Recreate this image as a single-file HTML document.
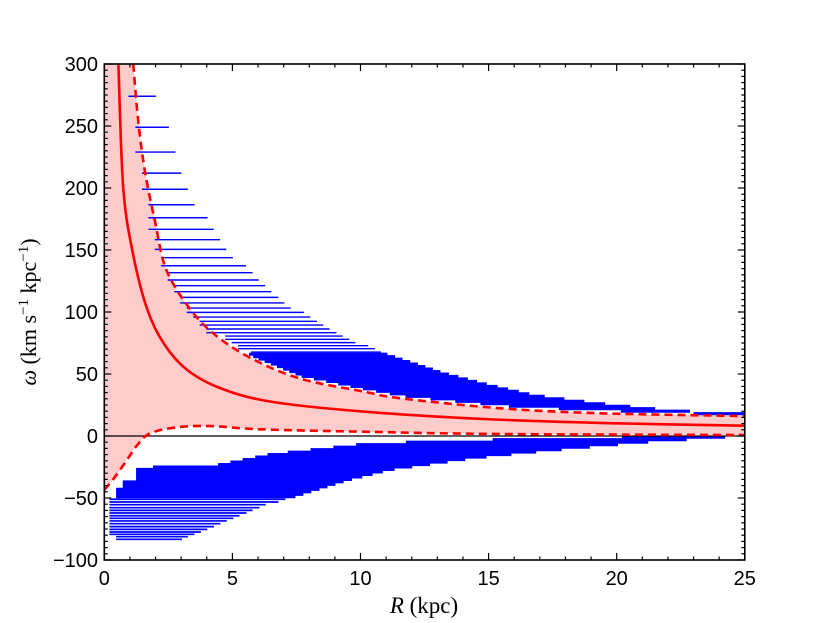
<!DOCTYPE html>
<html><head><meta charset="utf-8">
<style>
html,body{margin:0;padding:0;background:#fff;}
svg{display:block;font-family:"Liberation Sans",sans-serif;}
</style></head>
<body>
<svg id="chart" width="830" height="623" viewBox="0 0 830 623" xmlns="http://www.w3.org/2000/svg">
<defs><clipPath id="plotclip"><rect x="104.3" y="64" width="640.5" height="496"/></clipPath></defs>
<g id="plot" clip-path="url(#plotclip)"></g>
<g id="axes"></g>
<text x="424" y="613" text-anchor="middle" font-family="Liberation Serif, serif" font-size="23"><tspan font-style="italic">R</tspan> (kpc)</text>
<text transform="translate(36,312) rotate(-90)" text-anchor="middle" font-family="Liberation Serif, serif" font-size="22"><tspan font-style="italic">ω</tspan> (km s<tspan dy="-8" font-size="15">−1</tspan><tspan dy="8"> kpc</tspan><tspan dy="-8" font-size="15">−1</tspan><tspan dy="8">)</tspan></text>
</svg>
<script>
// Solid curve (model)
const solidR = [0.55,0.74,1.13,1.68,2.34,3.25,4.55,6.5,10.16,15,20,25];
const solidW = [300,200,146,102,74,53,38.4,27.7,19.6,13.5,10.2,8.3];
// Upper dashed curve
const upR = [1.13,1.33,1.59,1.98,2.42,3.38,4.42,5.86,7.7,10.16,11.57,15.5,19.4,25];
const upW = [300,253,213,173,134,101.6,80,61.3,46,35.7,30.4,22.3,18.3,16.1];
// Lower dashed curve
const loR = [0,0.38,0.88,1.3,1.79,2.83,4.14,6.1,10,15.5,25];
const loW = [-43.5,-34,-19.4,-7,2.2,7,8,5.4,3.5,1.6,0.8];
// Upper blue segments (sparse)
const upSparseW = [274,249,229,212,199,186.5,176,166.7,158.3,150.5,143.8,137.3,131.7,125.8,121.2,116.4,111.8,107.3,103.2,99.7,95.9,92.5,89.5,86.3,83.3,80.6,78,75.3,72.8,70.4,67.7];
const upSparseStart = [0.94,1.21,1.21,1.47,1.47,1.72,1.72,1.72,1.97,1.97,2.22,2.22,2.47,2.47,2.73,2.73,2.96,2.96,3.22,3.22,3.47,3.72,3.72,3.98,3.98,4.72,4.72,4.97,5.22,5.22,5.73];
const upSparseEnd = [2.01,2.52,2.78,3.01,3.26,3.52,4.03,4.27,4.52,4.76,5.02,5.53,5.79,6.03,6.28,6.52,6.79,7.03,7.28,7.79,8.04,8.3,8.55,8.79,9.06,9.3,9.56,9.8,10.3,10.56,10.8];
// Upper blue segments (dense)
const upDenseW = [66,64,62,60,58,56,54,52,50,48,46,44,42,40,38,36,34,32,30,28,26,24,22,20,18];
const upDenseStart = [5.65,5.81,6.02,6.26,6.5,6.74,6.98,7.22,7.46,7.7,8.18,8.66,9.13,9.61,10.09,10.61,11.14,11.76,12.73,13.7,14.68,15.79,17.74,20.16,23.0];
const upDenseEnd = [11.05,11.35,11.64,11.94,12.24,12.53,12.83,13.12,13.45,13.82,14.19,14.55,14.93,15.35,15.76,16.18,16.59,17.19,17.96,18.74,19.55,20.53,21.5,22.86,25.0];
// Lower blue segments (sparse)
const loSparseW = [-83.3,-81.2,-79.3,-77.4,-75.3,-73.1,-70.7,-68.5,-66.4,-64.3,-62.1,-60,-57.8,-55.4,-53.2,-51];
const loSparseStart = [0.46,0.46,0.2,0.2,0.2,0.2,0.2,0.2,0.2,0.2,0.2,0.2,0.2,0.2,0.2,0.2];
const loSparseEnd = [3.03,3.26,3.52,3.77,4.02,4.28,4.53,4.78,5.04,5.28,5.55,5.79,6.06,6.3,6.8,7.07];
// Lower blue segments (dense)
const loDenseW = [-49,-47,-45,-43,-41,-39,-37,-35,-33,-31,-29,-27,-25,-23,-21,-19,-17,-15,-13,-11,-9,-7,-5,-3,-1];
const loDenseStart = [0.46,0.46,0.46,0.46,0.72,0.72,0.72,1.24,1.24,1.24,1.24,1.24,1.9,4.44,4.92,5.4,5.89,6.37,7.16,8.05,8.94,9.83,11.77,15.16,20.2];
const loDenseEnd = [7.46,7.77,8.08,8.4,8.71,9.02,9.34,9.67,10.07,10.47,10.87,11.33,12.02,12.71,13.4,14.09,14.92,15.89,16.86,17.85,18.95,20.05,21.23,22.73,24.23];
// Ticks
const xTicks = [0,5,10,15,20,25];
const yTicks = [300,250,200,150,100,50,0,-50,-100];
const yTickLabels = ["300","250","200","150","100","50","0","−50","−100"];

const X0=104.3, X1=744.8, Y0=436, PXW=1.24;
function sx(r){return X0+(X1-X0)*r/25;}
function sy(w){return Y0-w*PXW;}
const NS="http://www.w3.org/2000/svg";
const plot=document.getElementById('plot');
const axes=document.getElementById('axes');
function mk(tag,attrs,parent){const e=document.createElementNS(NS,tag);for(const k in attrs)e.setAttribute(k,attrs[k]);parent.appendChild(e);return e;}
function smoothPath(R,W,move){
  const p=R.map((r,i)=>[sx(r),sy(W[i])]);
  let d=(move?'M':'L')+p[0][0].toFixed(2)+','+p[0][1].toFixed(2);
  for(let i=0;i<p.length-1;i++){
    const a=p[Math.max(0,i-1)],b=p[i],c=p[i+1],e=p[Math.min(p.length-1,i+2)];
    const c1=[b[0]+(c[0]-a[0])/6,b[1]+(c[1]-a[1])/6];
    const c2=[c[0]-(e[0]-b[0])/6,c[1]-(e[1]-b[1])/6];
    d+='C'+c1[0].toFixed(2)+','+c1[1].toFixed(2)+' '+c2[0].toFixed(2)+','+c2[1].toFixed(2)+' '+c[0].toFixed(2)+','+c[1].toFixed(2);
  }
  return d;
}
// pink band
let band='M'+sx(0)+','+sy(300)+smoothPath(upR,upW,false);
band+=smoothPath(loR.slice().reverse(),loW.slice().reverse(),false)+'Z';
const bandEl=mk('path',{d:band,fill:'#ffcccc',stroke:'none'},plot);


// blue segments
function segs(W,S,E,width,name){
  for(let i=0;i<W.length;i++){
    const l=mk('line',{x1:sx(S[i]),x2:sx(E[i]),y1:sy(W[i]),y2:sy(W[i]),stroke:'#0000ff','stroke-width':width},plot);
    
    
  }
}
segs(upSparseW,upSparseStart,upSparseEnd,1.4,'upper-range-segment');
segs(upDenseW,upDenseStart,upDenseEnd,3.1,'upper-range-segment');
segs(loSparseW,loSparseStart,loSparseEnd,1.7,'lower-range-segment');
segs(loDenseW,loDenseStart,loDenseEnd,3.1,'lower-range-segment');
// zero line
const z=mk('line',{x1:X0,x2:X1,y1:sy(0),y2:sy(0),stroke:'#000','stroke-width':1.3},plot);


// curves
const s=mk('path',{d:smoothPath(solidR,solidW,true),fill:'none',stroke:'#ff0000','stroke-width':2.6},plot);


const u=mk('path',{d:smoothPath(upR,upW,true),fill:'none',stroke:'#ff0000','stroke-width':2.6,'stroke-dasharray':'8,5'},plot);


const lo=mk('path',{d:smoothPath(loR,loW,true),fill:'none',stroke:'#ff0000','stroke-width':2.6,'stroke-dasharray':'8,5'},plot);


// frame
const fr=mk('rect',{x:X0,y:sy(300),width:X1-X0,height:sy(-100)-sy(300),fill:'none',stroke:'#000','stroke-width':1.6},axes);


// x ticks
for(let r=0;r<=25;r++){
  const major=(r%5===0), L=major?7:3.5;
  mk('line',{x1:sx(r),x2:sx(r),y1:sy(-100),y2:sy(-100)-L,stroke:'#000','stroke-width':1.2},axes);
  mk('line',{x1:sx(r),x2:sx(r),y1:sy(300),y2:sy(300)+L,stroke:'#000','stroke-width':1.2},axes);
}
xTicks.forEach(t=>{
  const tx=mk('text',{x:sx(t),y:585,'text-anchor':'middle','font-size':20},axes);
  tx.textContent=t;
  
  
});
for(let w=-100;w<=300;w+=5){
  const major=(w%50===0), L=major?7:3.5;
  mk('line',{x1:X0,x2:X0+L,y1:sy(w),y2:sy(w),stroke:'#000','stroke-width':1.2},axes);
  mk('line',{x1:X1,x2:X1-L,y1:sy(w),y2:sy(w),stroke:'#000','stroke-width':1.2},axes);
}
yTicks.forEach((t,i)=>{
  const ty=mk('text',{x:98,y:sy(t)+7,'text-anchor':'end','font-size':20},axes);
  ty.textContent=yTickLabels[i];
  
  
});
</script>
</body></html>
